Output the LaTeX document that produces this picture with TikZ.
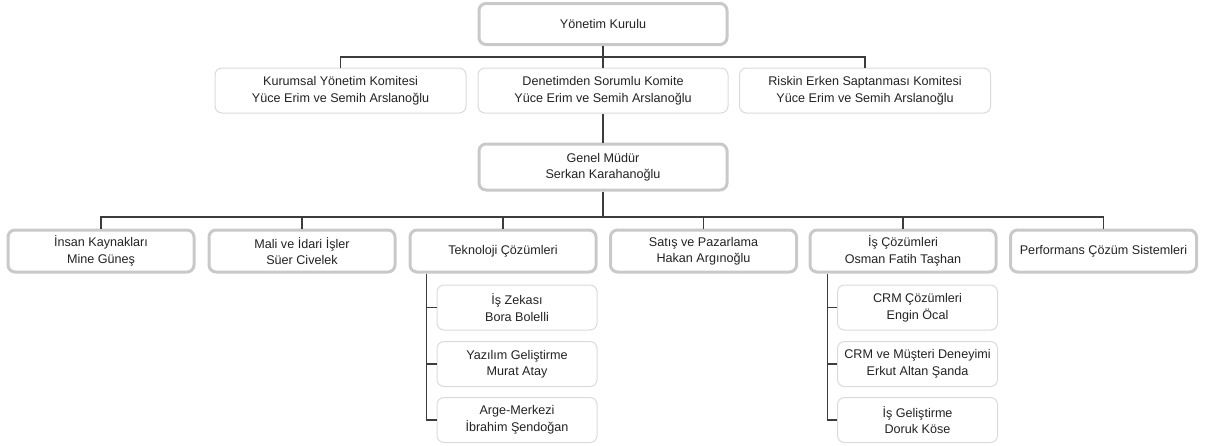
\documentclass[tikz,border=0pt]{standalone}
\usepackage{fontspec}
\setmainfont{Liberation Sans}
\definecolor{kalin}{HTML}{C9C9C9}
\definecolor{ince}{HTML}{DADADA}
\definecolor{hat}{HTML}{3C3C3C}
\definecolor{yazi}{HTML}{222222}
\begin{document}
\begin{tikzpicture}[x=1pt,y=-1pt,
	kutu/.style={rectangle,rounded corners=7pt,align=center,text=yazi,inner sep=0pt,
		font=\fontsize{12.6}{16.5}\selectfont},
	anakutu/.style={kutu,draw=kalin,line width=3pt},
	altkutu/.style={kutu,draw=ince,line width=1pt},
	hatt/.style={draw=hat,line width=1.2pt}]
	\useasboundingbox (0,0) rectangle (1206,445);
	% ust kisim
	\node[anakutu,minimum width=248,minimum height=41] (yk) at (603,24) {Yönetim Kurulu};
	\node[altkutu,minimum width=251,minimum height=45] (kyk) at (340.5,90.5) {Kurumsal Yönetim Komitesi\\Yüce Erim ve Semih Arslanoğlu};
	\node[altkutu,minimum width=250,minimum height=45] (dsk) at (603,90.5) {Denetimden Sorumlu Komite\\Yüce Erim ve Semih Arslanoğlu};
	\node[altkutu,minimum width=251,minimum height=45] (rek) at (865,90.5) {Riskin Erken Saptanması Komitesi\\Yüce Erim ve Semih Arslanoğlu};
	\node[anakutu,minimum width=248,minimum height=46] (gm) at (603,167) {Genel Müdür\\Serkan Karahanoğlu};
	% birimler
	\node[anakutu,minimum width=186,minimum height=42] (ik) at (101,251) {İnsan Kaynakları\\Mine Güneş};
	\node[anakutu,minimum width=186,minimum height=42] (mi) at (302,251) {Mali ve İdari İşler\\Süer Civelek};
	\node[anakutu,minimum width=186,minimum height=42] (tc) at (503,251) {Teknoloji Çözümleri};
	\node[anakutu,minimum width=186,minimum height=42] (sp) at (703.5,251) {Satış ve Pazarlama\\Hakan Argınoğlu};
	\node[anakutu,minimum width=186,minimum height=42] (ic) at (903,251) {İş Çözümleri\\Osman Fatih Taşhan};
	\node[anakutu,minimum width=186,minimum height=42] (pcs) at (1103.5,251) {Performans Çözüm Sistemleri};
	% alt birimler
	\node[altkutu,minimum width=160,minimum height=45] (iz) at (517,307.5) {İş Zekası\\Bora Bolelli};
	\node[altkutu,minimum width=160,minimum height=45] (yg) at (517,364) {Yazılım Geliştirme\\Murat Atay};
	\node[altkutu,minimum width=160,minimum height=45] (am) at (517,420) {Arge-Merkezi\\İbrahim Şendoğan};
	\node[altkutu,minimum width=160,minimum height=45] (crm) at (917.5,307.5) {CRM Çözümleri\\Engin Öcal};
	\node[altkutu,minimum width=160,minimum height=45] (cmd) at (917.5,364) {CRM ve Müşteri Deneyimi\\Erkut Altan Şanda};
	\node[altkutu,minimum width=160,minimum height=45] (ig) at (917.5,420) {İş Geliştirme\\Doruk Köse};
	% baglantilar
	\coordinate (bus1) at (0,57);
	\coordinate (bus2) at (0,217);
	\draw[hatt] (kyk.north) |- (rek.north |- bus1) -- (rek.north);
	\draw[hatt] (yk.south) -- (dsk.north);
	\draw[hatt] (dsk.south) -- (gm.north);
	\draw[hatt] (gm.south) -- (gm.south |- bus2);
	\draw[hatt] (ik.north) |- (pcs.north |- bus2) -- (pcs.north);
	\foreach \n in {mi,tc,sp,ic}
		\draw[hatt] (\n.north) -- (\n.north |- bus2);
	\path (tc.south west) ++(18,0) coordinate (tcs);
	\path (ic.south west) ++(19,0) coordinate (ics);
	\draw[hatt] (tcs) |- (am.west);
	\draw[hatt] (iz.west) -- (iz.west -| tcs);
	\draw[hatt] (yg.west) -- (yg.west -| tcs);
	\draw[hatt] (ics) |- (ig.west);
	\draw[hatt] (crm.west) -- (crm.west -| ics);
	\draw[hatt] (cmd.west) -- (cmd.west -| ics);
\end{tikzpicture}
\end{document}
